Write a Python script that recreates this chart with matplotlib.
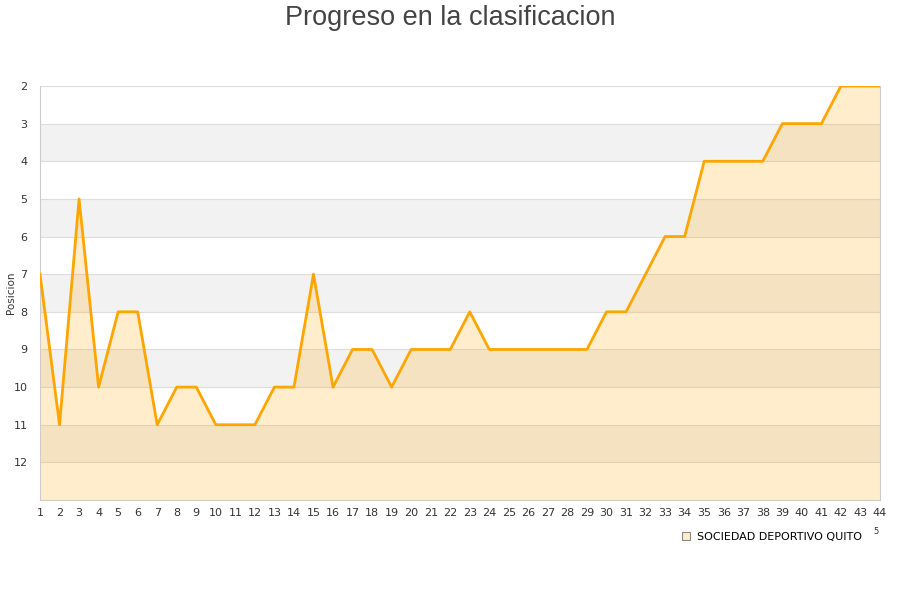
import matplotlib
matplotlib.use("Agg")
import matplotlib.pyplot as plt
from matplotlib.lines import Line2D

# Datos
jornadas = list(range(1, 45))
posiciones = [7, 11, 5, 10, 8, 8, 11, 10, 10, 11,
              11, 11, 10, 10, 7, 10, 9, 9, 10, 9,
              9, 9, 8, 9, 9, 9, 9, 9, 9, 8,
              8, 7, 6, 6, 4, 4, 4, 4, 3, 3,
              3, 2, 2, 2]
equipo = "SOCIEDAD DEPORTIVO QUITO"
pos_ticks = list(range(2, 13))
pos_min, pos_max = 2, 13

fig = plt.figure(figsize=(9, 6), dpi=100)
ax = fig.add_axes([40 / 900, 100 / 600, 840 / 900, 414 / 600])

# Bandas alternas
for p in range(pos_min, pos_max):
    if p % 2 == 1:
        ax.axhspan(p, p + 1, color="#f2f2f2", zorder=0, lw=0)
    ax.axhline(p, color="#dddddd", lw=0.8, zorder=1)

ax.fill_between(jornadas, posiciones, pos_max, color="#ffa500", alpha=0.2, lw=0, zorder=2)
ax.plot(jornadas, posiciones, color="#ffa500", lw=2, zorder=3)

ax.set_xlim(jornadas[0], jornadas[-1])
ax.set_ylim(pos_max, pos_min)
ax.set_xticks(jornadas)
ax.set_yticks(pos_ticks)
ax.tick_params(axis="both", length=0, labelsize=8, colors="#333333")
ax.tick_params(axis="x", pad=6)
ax.tick_params(axis="y", pad=9)
for s in ["left", "bottom", "right", "top"]:
    ax.spines[s].set_color("#cccccc")
ax.spines["top"].set_visible(False)

fig.text(11 / 900, 1 - 293 / 600, "Posicion", rotation=90, ha="center", va="center",
         fontsize=7.5, color="#333333")

fig.text(0.5, 1 - 18 / 600, "Progreso en la clasificacion", ha="center", va="center",
         fontsize=19.5, color="#444444", family="Liberation Sans")

handle = Line2D([], [], marker="s", ls="none", markersize=6,
                markerfacecolor="#ffedcc", markeredgecolor="#888888", markeredgewidth=0.8)
fig.legend([handle], [equipo], loc="center left", bbox_to_anchor=(675 / 900, 1 - 537 / 600),
           frameon=False, fontsize=8, handletextpad=0.5, borderpad=0, handlelength=1)
fig.text(876 / 900, 1 - 532 / 600, "5", fontsize=6, color="#333333", ha="center", va="center")

plt.savefig("out.png", dpi=100)
plt.close()
